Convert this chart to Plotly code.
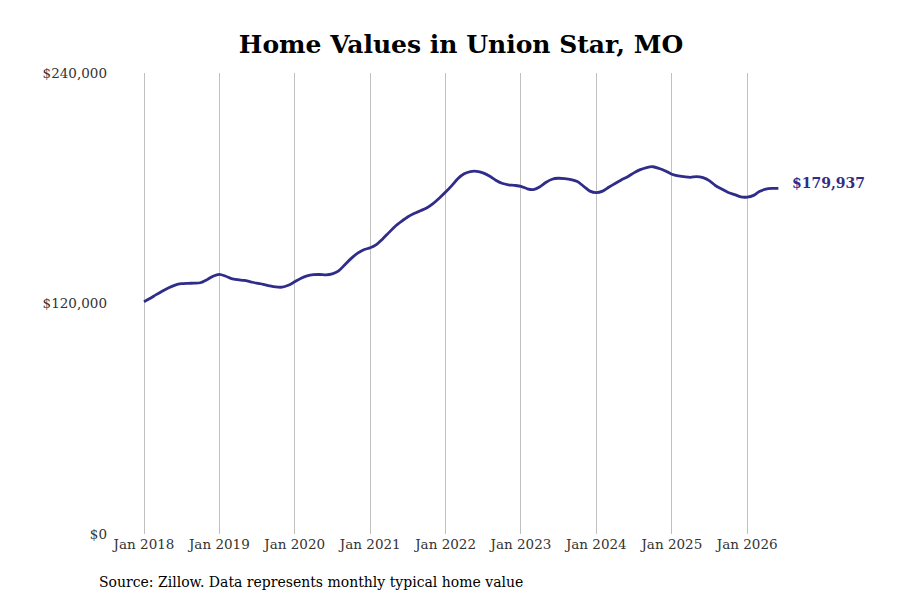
import pandas as pd
import plotly.graph_objects as go

start_month = "2018-01-01"
values = [
    120900, 122700, 124600, 126500, 128200, 129600, 130300, 130500, 130600, 130800, 132300, 134200,
    135200, 134200, 133000, 132400, 132000, 131300, 130600, 130000, 129200, 128600, 128500, 129500,
    131300, 133200, 134400, 135000, 135100, 134900, 135400, 137000, 140300, 143500, 146200, 148000,
    149000, 150800, 153500, 156900, 160100, 162700, 165000, 166800, 168300, 169700, 172000, 174800,
    178000, 181500, 185000, 187500, 188700, 188800, 188000, 186400, 184200, 182600, 181800, 181500,
    181000, 179700, 179300, 180700, 183000, 184700, 185200, 185000, 184500, 183500, 181000, 178500,
    177700, 178500, 180500, 182500, 184300, 186000, 188000, 189700, 190800, 191200, 190300, 189000,
    187300, 186400, 186000, 185700, 186100, 185500, 184000, 181300, 179500, 177800, 176700, 175500,
    175400, 176300, 178300, 179500, 179900, 179937,
]
dates = pd.date_range(start_month, periods=len(values), freq="MS")

tick_vals = pd.date_range("2018-01-01", "2026-01-01", freq="YS")
tick_text = [d.strftime("Jan %Y") for d in tick_vals]
y_ticks = [0, 120000, 240000]
y_text = ["$0", "$120,000", "$240,000"]
end_label = "$179,937"

line_color = "#2f2c8a"
font_family = "DejaVu Serif"

# geometry in figure pixels (page is offset by the 8px body margin)
W, H = 900, 600
left_px, right_px, jan18_px, px_per_day = 100, 872, 136, 75.4 / 365.25
top_px, bottom_px = 65, 526
t0 = pd.Timestamp("2018-01-01")
x_start = t0 - pd.Timedelta(days=(jan18_px - left_px) / px_per_day)
x_end = t0 + pd.Timedelta(days=(right_px - jan18_px) / px_per_day)
plot_w = right_px - left_px
plot_h = bottom_px - top_px

fig = go.Figure()
fig.add_trace(go.Scatter(
    x=dates, y=values, mode="lines",
    line=dict(color=line_color, width=2.8, shape="spline", smoothing=0.8),
    hoverinfo="skip", showlegend=False,
))

fig.add_annotation(
    x=dates[-1], y=values[-1], text=f"<b>{end_label}</b>",
    showarrow=False, xanchor="left", xshift=12, yshift=5,
    font=dict(family=font_family, size=14, color=line_color),
)

fig.update_layout(
    width=W, height=H,
    paper_bgcolor="white", plot_bgcolor="white",
    margin=dict(l=left_px, r=W - right_px, t=top_px, b=H - bottom_px),
    title=dict(
        text="<b>Home Values in Union Star, MO</b>",
        x=453 / W, xanchor="center", y=1 - 36 / H, yanchor="middle",
        font=dict(family=font_family, size=25, color="black"),
    ),
    font=dict(family=font_family, size=13.5, color="#333333"),
    xaxis=dict(
        range=[x_start, x_end], tickvals=tick_vals, ticktext=tick_text,
        showgrid=True, gridcolor="#c0c0c0", gridwidth=1,
        showline=False, zeroline=False, ticks="",
        tickfont=dict(size=13.5, color="#333333"),
    ),
    yaxis=dict(
        range=[0, 240000], tickvals=y_ticks, ticktext=y_text,
        showgrid=False, zeroline=False, showline=False, ticks="",
        tickfont=dict(size=13.5, color="#333333"),
    ),
)

fig.add_annotation(
    xref="paper", yref="paper",
    x=(89 - left_px) / plot_w, y=-(574 - bottom_px) / plot_h,
    xanchor="left", yanchor="middle",
    text="Source: Zillow. Data represents monthly typical home value",
    showarrow=False, font=dict(family=font_family, size=14, color="black"),
)

fig.write_html("out.html")
